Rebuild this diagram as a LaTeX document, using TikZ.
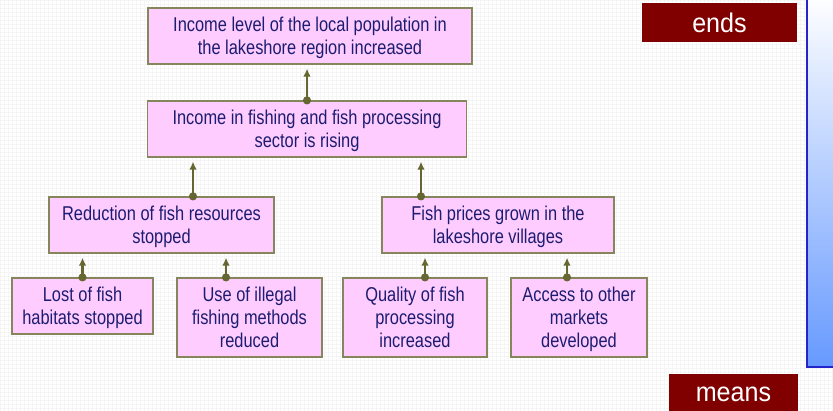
\documentclass[tikz,border=0pt]{standalone}
\usepackage{fontspec}
\setmainfont[FakeStretch=0.82]{Liberation Sans}
\newfontfamily\tagfont[FakeStretch=0.93]{Liberation Sans}
\usepackage{xcolor}
\usetikzlibrary{arrows.meta}
\tikzset{>=latex}
\definecolor{boxpink}{HTML}{FFCCFF}
\definecolor{boxline}{HTML}{86865C}
\definecolor{boxtext}{HTML}{1C1C70}
\definecolor{linkcol}{HTML}{666633}
\definecolor{tagred}{HTML}{800000}
\definecolor{barblue}{HTML}{6699FF}
\definecolor{barmid}{HTML}{BFCFFF}
\definecolor{barline}{HTML}{2424CC}
\tikzset{
  obj/.style={draw=boxline, line width=1.2pt, fill=boxpink, text=boxtext, align=center,
    inner sep=0pt, text depth=-2pt, font=\fontsize{20}{22.8}\selectfont},
  link/.style={linkcol, line width=2.3pt, {Circle[length=8pt]}-{Latex[length=8pt,width=7.5pt]},
    shorten <=-4pt, shorten >=4pt},
  tag/.style={fill=tagred, text=white, inner sep=0pt, font=\tagfont\fontsize{27}{30}\selectfont}
}

\begin{document}
\begin{tikzpicture}[x=1pt,y=-1pt]
\useasboundingbox (0,0) rectangle (833,411);
\fill[white] (0,0) rectangle (833,411);
\draw[black!4, line width=0.4pt, step=4pt] (0,0) grid (833,411);

% ends / means scale on the right
\shade[top color=white, middle color=barmid, bottom color=barblue] (807,-5) rectangle (845,367);
\draw[barline, line width=1.3pt] (807,-5) rectangle (845,367);
\node (ends) at (719.5,22.5) [tag, minimum width=155pt, minimum height=39pt] {ends};
\node (means) at (733.5,394) [tag, minimum width=129pt, minimum height=40pt] {means};

% objective tree
\node (level) at (310,36) [obj, minimum width=324pt, minimum height=56pt] {Income level of the local population in\\the lakeshore region increased};
\node (income) at (307,129) [obj, minimum width=319pt, minimum height=56pt] {Income in fishing and fish processing\\sector is rising};
\node (reduce) at (161.5,225) [obj, minimum width=225pt, minimum height=56pt] {Reduction of fish resources\\stopped};
\node (prices) at (498,225) [obj, minimum width=232pt, minimum height=56pt] {Fish prices grown in the\\lakeshore villages};
\node (lost) at (82.5,306) [obj, minimum width=141pt, minimum height=56pt] {Lost of fish\\habitats stopped};
\node (illegal) at (249.5,317.5) [obj, minimum width=145pt, minimum height=79pt] {Use of illegal\\fishing methods\\reduced};
\node (quality) at (415,317.5) [obj, minimum width=144pt, minimum height=79pt] {Quality of fish\\processing\\increased};
\node (access) at (579,317.5) [obj, minimum width=136pt, minimum height=79pt] {Access to other\\markets\\developed};

\draw[link] (income.north) -- (income.north |- level.south);
\draw[link] ([xshift=31.5pt]reduce.north) -- ([xshift=31.5pt]reduce.north |- income.south);
\draw[link] ([xshift=-77pt]prices.north) -- ([xshift=-77pt]prices.north |- income.south);
\draw[link] (lost.north) -- (lost.north |- reduce.south);
\draw[link] ([xshift=-23.5pt]illegal.north) -- ([xshift=-23.5pt]illegal.north |- reduce.south);
\draw[link] ([xshift=10pt]quality.north) -- ([xshift=10pt]quality.north |- prices.south);
\draw[link] ([xshift=-12pt]access.north) -- ([xshift=-12pt]access.north |- prices.south);
\end{tikzpicture}
\end{document}
